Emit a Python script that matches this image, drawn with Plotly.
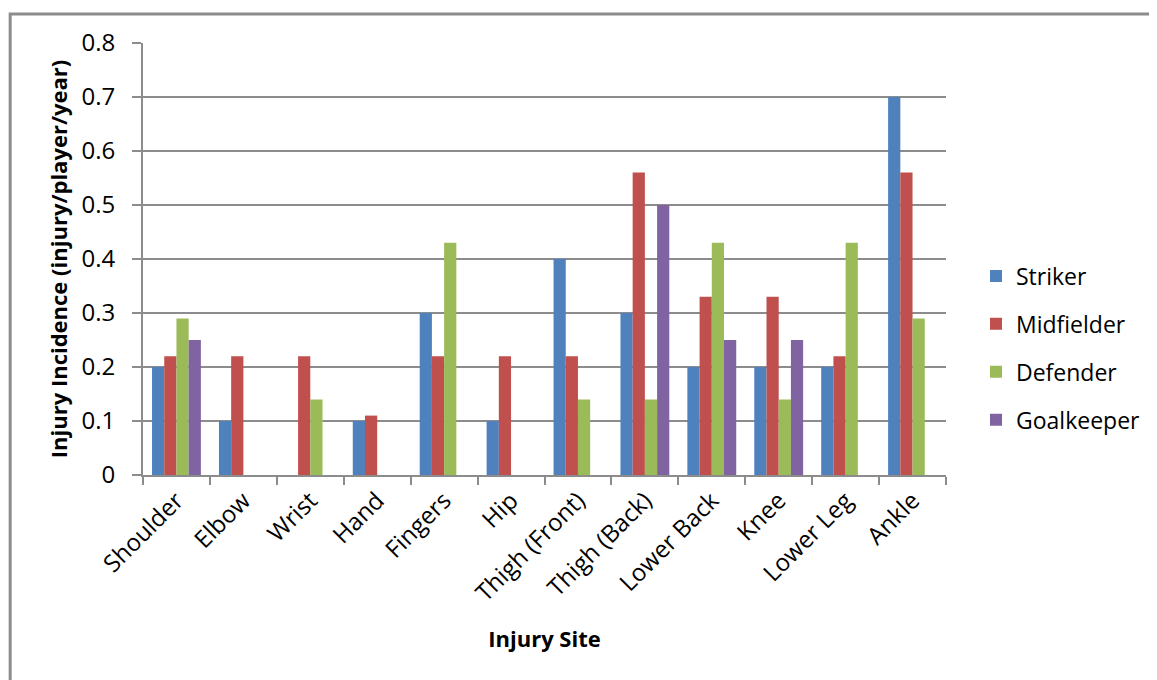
import plotly.graph_objects as go

sites = ["Shoulder", "Elbow", "Wrist", "Hand", "Fingers", "Hip", "Thigh (Front)",
         "Thigh (Back)", "Lower Back", "Knee", "Lower Leg", "Ankle"]
striker = [0.2, 0.1, None, 0.1, 0.3, 0.1, 0.4, 0.3, 0.2, 0.2, 0.2, 0.7]
midfielder = [0.22, 0.22, 0.22, 0.11, 0.22, 0.22, 0.22, 0.56, 0.33, 0.33, 0.22, 0.56]
defender = [0.29, None, 0.14, None, 0.43, None, 0.14, 0.14, 0.43, 0.14, 0.43, 0.29]
goalkeeper = [0.25, None, None, None, None, None, None, 0.5, 0.25, 0.25, None, None]
y_ticks = [0, 0.1, 0.2, 0.3, 0.4, 0.5, 0.6, 0.7, 0.8]
y_labels = ["0", "0.1", "0.2", "0.3", "0.4", "0.5", "0.6", "0.7", "0.8"]

series = [
    ("Striker", striker, "#4F81BD"),
    ("Midfielder", midfielder, "#C0504D"),
    ("Defender", defender, "#9BBB59"),
    ("Goalkeeper", goalkeeper, "#8064A2"),
]

FONT = "'Open Sans', sans-serif"
GRID = "#8c8c8c"
OFF = 8  # page body margin

fig = go.Figure()
for name, vals, color in series:
    fig.add_trace(go.Bar(x=sites, y=vals, name=name, marker_color=color,
                         marker_line_width=0, legendgroup=name))

# pixel geometry of the plot area (in screenshot coordinates)
L, R, T, B = 143, 947, 43, 475
W, H = R - L, B - T
FW, FH = 1157 - OFF, 680 - OFF

fig.update_layout(
    width=FW, height=FH,
    margin=dict(l=L - OFF, r=FW - (R - OFF), t=T - OFF, b=FH - (B - OFF)),
    paper_bgcolor="white", plot_bgcolor="white",
    font=dict(family=FONT, color="black", size=24),
    barmode="group", bargap=0.27, bargroupgap=0,
    showlegend=True,
    legend=dict(x=(976 - L) / W, y=(B - 348) / H, xanchor="left", yanchor="middle",
                font=dict(size=23), tracegroupgap=15, traceorder="grouped"),
    xaxis=dict(
        title=dict(text="<b>Injury Site</b>", font=dict(size=22), standoff=25),
        tickangle=-45, tickson="boundaries", ticks="outside", ticklen=8,
        tickcolor=GRID, tickwidth=2, showline=True, linecolor=GRID, linewidth=2,
        showgrid=False, tickfont=dict(size=24),
    ),
    yaxis=dict(
        title=dict(text="<b>Injury Incidence (injury/player/year)</b>", font=dict(size=22),
                   standoff=8),
        range=[0, 0.8], tickvals=y_ticks, ticktext=y_labels,
        ticks="outside", ticklen=9, tickcolor=GRID, tickwidth=2, ticklabelstandoff=12,
        showline=True, linecolor=GRID, linewidth=2,
        showgrid=True, gridcolor=GRID, gridwidth=2, zeroline=False,
        tickfont=dict(size=24),
    ),
)

# chart frame (cropped on right and bottom)
fig.add_shape(type="rect", xref="paper", yref="paper",
              x0=(10 - L) / W, x1=2.0, y0=-2.0, y1=(B - 14) / H,
              line=dict(color="#8c8c8c", width=3), layer="below")

fig.write_html("out.html")
